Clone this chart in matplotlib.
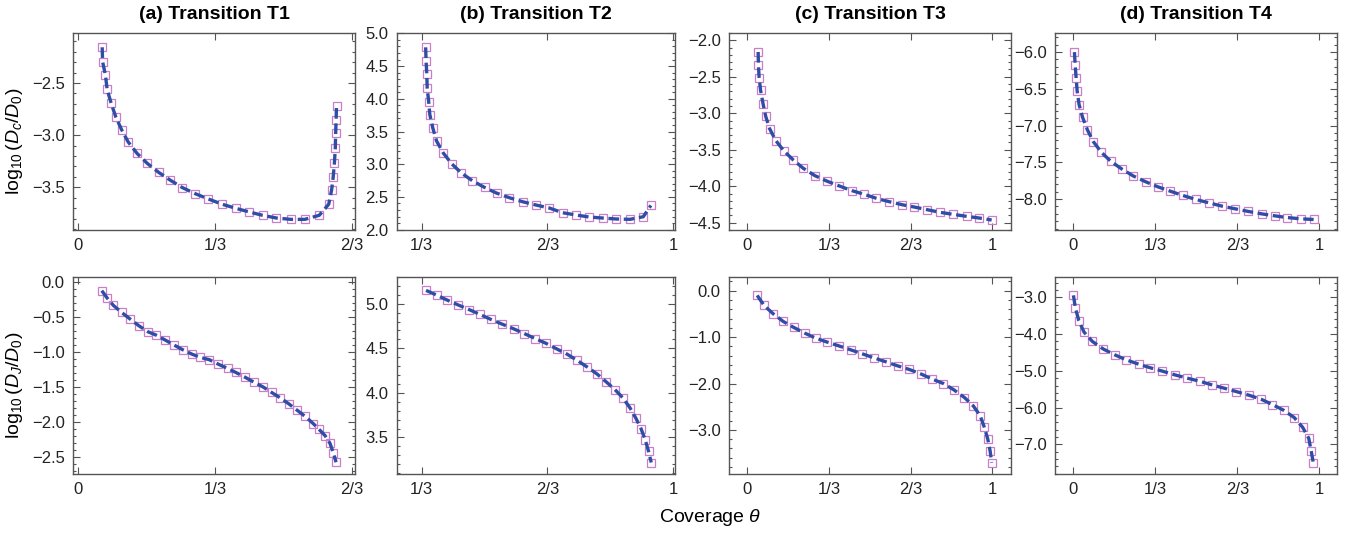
#!/usr/bin/env python3
"""Diffusion coefficients vs coverage for four transitions (2x4 panel figure)."""
import numpy as np
import matplotlib
matplotlib.use("Agg")
import matplotlib.pyplot as plt
from matplotlib.ticker import FixedLocator, MultipleLocator, FuncFormatter, NullLocator

# ---- data (theta, log10 D) ----
# Chemical diffusion, top row
T1_DC_THETA = [0.059, 0.060, 0.067, 0.071, 0.081, 0.092, 0.106, 0.122, 0.144, 0.169,
               0.196, 0.225, 0.254, 0.285, 0.317, 0.351, 0.384, 0.417, 0.449, 0.483,
               0.518, 0.552, 0.587, 0.610, 0.617, 0.621, 0.624, 0.626, 0.627, 0.628, 0.629]
T1_DC_LOG = [-2.157, -2.295, -2.426, -2.561, -2.696, -2.824, -2.946, -3.064, -3.176, -3.272,
             -3.356, -3.433, -3.503, -3.561, -3.612, -3.663, -3.702, -3.737, -3.769, -3.795,
             -3.808, -3.808, -3.769, -3.663, -3.529, -3.401, -3.263, -3.128, -2.984, -2.856, -2.718]

T2_DC_THETA = [0.344, 0.345, 0.347, 0.348, 0.352, 0.355, 0.363, 0.373, 0.391, 0.413,
               0.438, 0.468, 0.500, 0.532, 0.566, 0.601, 0.637, 0.672, 0.707, 0.743,
               0.778, 0.813, 0.849, 0.886, 0.921, 0.941]
T2_DC_LOG = [4.786, 4.578, 4.380, 4.166, 3.958, 3.759, 3.551, 3.353, 3.169, 3.007,
             2.869, 2.747, 2.646, 2.559, 2.488, 2.427, 2.376, 2.331, 2.259, 2.224,
             2.193, 2.178, 2.163, 2.158, 2.198, 2.371]

T3_DC_THETA = [0.044, 0.045, 0.048, 0.054, 0.064, 0.075, 0.091, 0.116, 0.149, 0.187,
               0.228, 0.275, 0.323, 0.375, 0.426, 0.477, 0.527, 0.579, 0.631, 0.681,
               0.733, 0.787, 0.841, 0.895, 0.947, 0.997]
T3_DC_LOG = [-2.160, -2.334, -2.513, -2.687, -2.870, -3.044, -3.213, -3.374, -3.516, -3.639,
             -3.754, -3.854, -3.928, -3.996, -4.060, -4.111, -4.166, -4.212, -4.253, -4.285,
             -4.321, -4.358, -4.386, -4.413, -4.436, -4.463]

T4_DC_THETA = [0.004, 0.007, 0.011, 0.015, 0.023, 0.037, 0.057, 0.081, 0.114, 0.152,
               0.197, 0.244, 0.294, 0.343, 0.393, 0.445, 0.498, 0.551, 0.604, 0.658,
               0.712, 0.765, 0.818, 0.868, 0.925, 0.977]
T4_DC_LOG = [-6.000, -6.173, -6.355, -6.527, -6.714, -6.886, -7.059, -7.218, -7.364, -7.486,
             -7.591, -7.686, -7.764, -7.832, -7.891, -7.950, -8.005, -8.050, -8.095, -8.132,
             -8.168, -8.200, -8.227, -8.250, -8.268, -8.277]

# Jump diffusion, bottom row
T1_DJ_THETA = [0.058, 0.071, 0.086, 0.106, 0.127, 0.148, 0.170, 0.190, 0.211, 0.234,
               0.255, 0.277, 0.298, 0.320, 0.341, 0.364, 0.384, 0.406, 0.428, 0.451,
               0.471, 0.492, 0.513, 0.532, 0.553, 0.573, 0.586, 0.601, 0.613, 0.621, 0.628]
T1_DJ_LOG = [-0.119, -0.224, -0.329, -0.429, -0.525, -0.620, -0.706, -0.754, -0.821, -0.897,
             -0.964, -1.026, -1.073, -1.107, -1.169, -1.231, -1.288, -1.355, -1.427, -1.498,
             -1.574, -1.651, -1.737, -1.823, -1.918, -2.023, -2.099, -2.190, -2.300, -2.433, -2.572]

T2_DJ_THETA = [0.345, 0.373, 0.401, 0.431, 0.460, 0.488, 0.517, 0.547, 0.577, 0.605,
               0.634, 0.662, 0.691, 0.719, 0.745, 0.772, 0.798, 0.822, 0.846, 0.867,
               0.886, 0.901, 0.915, 0.926, 0.935, 0.942]
T2_DJ_LOG = [5.150, 5.097, 5.041, 4.985, 4.933, 4.880, 4.824, 4.771, 4.719, 4.666,
             4.610, 4.558, 4.494, 4.434, 4.366, 4.291, 4.213, 4.126, 4.036, 3.943,
             3.830, 3.718, 3.598, 3.474, 3.343, 3.219]

T3_DJ_THETA = [0.040, 0.068, 0.105, 0.146, 0.189, 0.234, 0.279, 0.326, 0.372, 0.421,
               0.469, 0.516, 0.565, 0.613, 0.661, 0.707, 0.755, 0.800, 0.843, 0.886,
               0.922, 0.950, 0.967, 0.981, 0.991, 0.997]
T3_DJ_LOG = [-0.101, -0.317, -0.496, -0.662, -0.791, -0.914, -1.022, -1.108, -1.187, -1.273,
             -1.360, -1.446, -1.532, -1.619, -1.698, -1.791, -1.906, -2.000, -2.137, -2.302,
             -2.482, -2.691, -2.942, -3.194, -3.460, -3.705]

T4_DJ_THETA = [0.000, 0.008, 0.022, 0.043, 0.077, 0.122, 0.168, 0.214, 0.265, 0.313,
               0.362, 0.412, 0.463, 0.513, 0.563, 0.613, 0.662, 0.714, 0.763, 0.809,
               0.855, 0.898, 0.932, 0.957, 0.967, 0.976]
T4_DJ_LOG = [-2.945, -3.291, -3.636, -3.945, -4.200, -4.409, -4.564, -4.700, -4.818, -4.918,
             -5.009, -5.109, -5.200, -5.282, -5.382, -5.473, -5.564, -5.664, -5.773, -5.918,
             -6.073, -6.273, -6.536, -6.836, -7.182, -7.518]

TITLES = ["(a) Transition T1", "(b) Transition T2", "(c) Transition T3", "(d) Transition T4"]
FRAC_TICKS = [0, 1 / 3, 2 / 3, 1]
FRAC_LABELS = ["0", "1/3", "2/3", "1"]

LINE_COLOR = "#2e4ea6"
MARKER_COLOR = "#c97ec9"
FRAME_COLOR = "#555555"

plt.rcParams["font.family"] = ["Liberation Sans", "DejaVu Sans"]
plt.rcParams["mathtext.fontset"] = "custom"
plt.rcParams["mathtext.rm"] = "Liberation Sans"
plt.rcParams["mathtext.it"] = "Liberation Sans:italic"
plt.rcParams["mathtext.bf"] = "Liberation Sans:bold"


def minus_fmt(v, _pos):
    return f"{v:.1f}".replace("-", "\u2212")


def style_axis(ax, xticks, xlim, ylim, ymajor, yminor):
    ax.set_xlim(*xlim)
    ax.set_ylim(*ylim)
    ax.xaxis.set_major_locator(FixedLocator([FRAC_TICKS[i] for i in xticks]))
    ax.set_xticklabels([FRAC_LABELS[i] for i in xticks])
    ax.xaxis.set_minor_locator(NullLocator())
    ax.yaxis.set_major_locator(MultipleLocator(ymajor))
    ax.yaxis.set_minor_locator(MultipleLocator(yminor))
    ax.yaxis.set_major_formatter(FuncFormatter(minus_fmt))
    ax.tick_params(which="both", direction="in", top=True, right=True,
                   color=FRAME_COLOR, width=0.8, labelsize=12, labelcolor="#222222")
    ax.tick_params(which="major", length=5, pad=6)
    ax.tick_params(which="minor", length=2.5)
    for s in ax.spines.values():
        s.set_color(FRAME_COLOR)
        s.set_linewidth(1.0)


def draw(ax, theta, logd):
    ax.plot(theta, logd, linestyle="none", marker="s", markersize=5.2,
            markerfacecolor="none", markeredgecolor=MARKER_COLOR, markeredgewidth=0.9)
    ax.plot(theta, logd, color=LINE_COLOR, linewidth=2.4, linestyle=(0, (3.2, 1.4)),
            dash_capstyle="butt")


def main():
    fig = plt.figure(figsize=(13.6, 5.36), dpi=100)

    lefts = [73, 397, 729, 1055]
    widths = [282, 278, 282, 282]
    tops = [33, 277]
    height = 197

    top_data = [(T1_DC_THETA, T1_DC_LOG), (T2_DC_THETA, T2_DC_LOG),
                (T3_DC_THETA, T3_DC_LOG), (T4_DC_THETA, T4_DC_LOG)]
    bot_data = [(T1_DJ_THETA, T1_DJ_LOG), (T2_DJ_THETA, T2_DJ_LOG),
                (T3_DJ_THETA, T3_DJ_LOG), (T4_DJ_THETA, T4_DJ_LOG)]

    xticks = [[0, 1, 2], [1, 2, 3], [0, 1, 2, 3], [0, 1, 2, 3]]
    xlims = [(-0.012, 0.674), (0.268, 1.005), (-0.075, 1.076), (-0.075, 1.072)]
    top_ylims = [(-3.91, -2.02), (1.995, 5.005), (-4.60, -1.90), (-8.42, -5.74)]
    bot_ylims = [(-2.74, 0.076), (3.09, 5.30), (-3.95, 0.295), (-7.81, -2.445)]
    top_major = [0.5, 0.5, 0.5, 0.5]
    bot_major = [0.5, 0.5, 1.0, 1.0]

    W, H = 1360, 536
    for row, (data, ylims, majors) in enumerate(
            [(top_data, top_ylims, top_major), (bot_data, bot_ylims, bot_major)]):
        for col in range(4):
            rect = [lefts[col] / W, 1 - (tops[row] + height) / H, widths[col] / W, height / H]
            ax = fig.add_axes(rect)
            draw(ax, *data[col])
            major = majors[col]
            style_axis(ax, xticks[col], xlims[col], ylims[col], major,
                       0.1 if major == 0.5 else 0.2)
            if row == 0:
                ax.set_title(TITLES[col], fontsize=14, fontweight="bold", pad=10)
            if col == 0:
                label = r"$\log_{10}(D_c/D_0)$" if row == 0 else r"$\log_{10}(D_J/D_0)$"
                ax.set_ylabel(label, fontsize=14)
                ax.yaxis.set_label_coords(-0.17, 0.45)

    fig.text(0.522, 0.035, r"Coverage $\theta$", fontsize=14, ha="center", va="center")
    fig.savefig("out.png", dpi=100)


if __name__ == "__main__":
    main()
